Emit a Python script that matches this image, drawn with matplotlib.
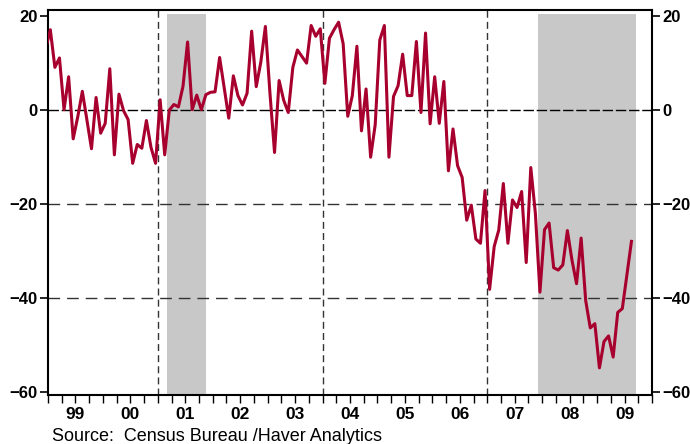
import numpy as np
import matplotlib as mpl
mpl.use("Agg")
import matplotlib.pyplot as plt
from matplotlib import font_manager

# pick a narrow Arial-like face if available
names = {f.name for f in font_manager.fontManager.ttflist}
face = 'Liberation Sans Narrow' if 'Liberation Sans Narrow' in names else 'Liberation Sans'
plt.rcParams['font.family'] = [face, 'DejaVu Sans']

# monthly values, Dec 1998 .. Aug 2009
first_year, first_month = 1998, 12
values = [13.0,
          17.0, 9.0, 11.0, 0.0, 7.0, -6.2, -1.5, 3.9, -2.2, -8.3, 2.6, -5.0,        # 1999
          -2.9, 8.7, -9.6, 3.3, -0.2, -2.1, -11.4, -7.4, -8.2, -2.3, -8.0, -11.4,   # 2000
          2.1, -9.6, -0.1, 1.1, 0.6, 5.0, 14.4, 0.0, 3.1, 0.0, 3.2, 3.7,            # 2001
          3.8, 11.1, 4.7, -1.8, 7.2, 3.0, 1.0, 3.5, 16.7, 4.9, 10.1, 17.7,          # 2002
          3.5, -9.1, 6.2, 2.0, -0.6, 9.0, 12.7, 11.3, 9.9, 17.9, 15.6, 17.2,        # 2003
          5.6, 15.2, 17.0, 18.6, 14.0, -1.4, 3.0, 13.5, -4.5, 4.4, -10.1, -3.2,     # 2004
          14.8, 17.9, -10.1, 2.8, 5.1, 11.8, 3.0, 3.0, 14.5, -0.6, 16.3, -3.0,      # 2005
          7.0, -2.9, 6.0, -13.0, -4.1, -11.9, -14.4, -23.5, -20.3, -27.5, -28.4, -17.2,  # 2006
          -38.2, -29.1, -25.6, -15.7, -28.4, -19.2, -20.8, -17.4, -32.5, -12.3, -22.0, -38.8,  # 2007
          -25.5, -24.1, -33.6, -34.1, -33.0, -25.7, -32.0, -37.0, -27.3, -40.6, -46.4, -45.5,  # 2008
          -54.9, -49.3, -48.1, -52.6, -43.1, -42.3, -35.2, -28.0]                   # 2009

recessions = [(2001.17, 2001.87), (2007.92, 2009.71)]
markers = [2001, 2004, 2007]
year_labels = ['99', '00', '01', '02', '03', '04', '05', '06', '07', '08', '09']
yticks = [20, 0, -20, -40, -60]
source = 'Source:  Census Bureau /Haver Analytics'

n = len(values)
x = first_year + (first_month - 1 + np.arange(n) + 0.5) / 12.0

fig = plt.figure(figsize=(6.9, 4.44), dpi=100)
ax = fig.add_axes([0.0696, 0.110, 0.8754, 0.8675])
ymin, ymax = -60.7, 21.2
ax.set_xlim(1999, 2010)
ax.set_ylim(ymin, ymax)

for a, b in recessions:
    ax.fill_between([a, b], ymin, 20.4, color='#c8c8c8', lw=0, zorder=0)

ax.axhline(0, color='black', lw=1.0, ls=(0, (7.5, 2)), zorder=1)
for yv in [-20, -40]:
    ax.axhline(yv, color='#333333', lw=1.0, ls=(0, (8.4, 5)), zorder=1)
for xv in markers:
    ax.axvline(xv, color='#333333', lw=1.0, ls=(0, (5, 3)), zorder=1)

ax.plot(x, values, color='#a8002e', lw=2.2, zorder=3)

for s in ax.spines.values():
    s.set_linewidth(1.5)
    s.set_color('black')

ax.set_yticks(yticks)
ax.tick_params(axis='y', which='major', direction='out', length=6, width=1.2,
               left=True, right=True, labelleft=True, labelright=True,
               labelsize=12, pad=1.5)
for lab in ax.get_yticklabels():
    lab.set_fontweight('bold')

# quarterly ticks, year labels in between
ax.xaxis.remove_overlapping_locs = False
ax.set_xticks(1999 + 0.25 * np.arange(45))
ax.set_xticks(1999.5 + np.arange(len(year_labels)), minor=True)
ax.set_xticklabels([], minor=False)
ax.set_xticklabels(year_labels, minor=True, fontweight='bold')
ax.tick_params(axis='x', which='major', direction='out', length=6, width=1.0)
ax.tick_params(axis='x', which='minor', length=0, labelsize=12.5, pad=8.5)

fig.text(52 / 690, 1 - 436 / 444, source, fontsize=13, ha='left', va='center')

fig.savefig('out.png', dpi=100)
